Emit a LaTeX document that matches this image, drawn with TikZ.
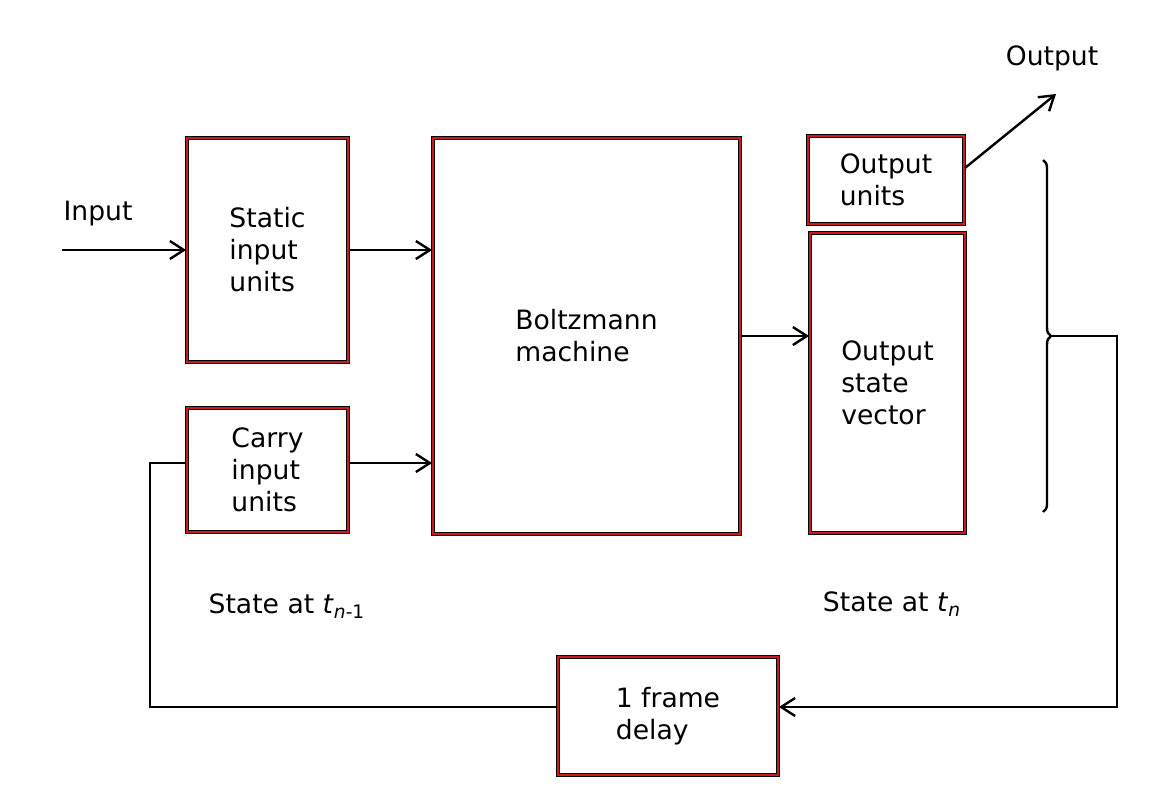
\documentclass[tikz,border=0pt]{standalone}
\usepackage{fontspec}
\setmainfont{DejaVu Sans}
\usepackage{tikz}
\usetikzlibrary{arrows.meta}
\usetikzlibrary{decorations.pathreplacing}
\definecolor{boxred}{RGB}{205,25,30}
\tikzstyle{unit} = [rectangle, draw=boxred, line width=0.9pt,
    preaction={draw=black, line width=2.4pt}, align=left, inner sep=0pt,
    font=\fontsize{13.3}{16}\selectfont]
\tikzstyle{note} = [font=\fontsize{13.3}{16}\selectfont]
\tikzstyle{wire} = [draw, line width=1.2pt]
\tikzstyle{line} = [draw, line width=1.2pt, -{Straight Barb[length=7pt,width=9pt]}]

\begin{document}
\begin{tikzpicture}[x=0.5pt, y=-0.5pt]
  \useasboundingbox (0,0) rectangle (1171,811);

  \node [unit, minimum width=80.5pt, minimum height=112pt] (static) at (267.5,250) {Static\\input\\units};
  \node [unit, minimum width=80.5pt, minimum height=62pt] (carry) at (267.5,470) {Carry\\input\\units};
  \node [unit, minimum width=153.5pt, minimum height=198pt] (boltz) at (586.5,336) {Boltzmann\\machine};
  \node [unit, minimum width=78pt, minimum height=44pt] (outunits) at (886,180) {Output\\units};
  \node [unit, minimum width=77.5pt, minimum height=150pt] (osv) at (887.5,383) {Output\\state\\vector};
  \node [unit, minimum width=110pt, minimum height=59pt] (delay) at (668,716) {1 frame\\delay};

  \node [note] (inlabel) at (98,214) {Input};
  \node [note] (outlabel) at (1052,58) {Output};
  \node [note] (statebefore) at (287,606) {State at \textit{t}\textsubscript{\textit{n}-1}};
  \node [note] (statenow) at (892,604) {State at \textit{t}\textsubscript{\textit{n}}};

  \coordinate (in) at (62,250);
  \coordinate (out) at (1056,94);
  \coordinate (bracetip) at (1051,336);
  \coordinate (turn) at (1117,336);
  \coordinate (loop) at (150,600);

  \path [line] (in) -- (static.west);
  \path [line] (static.east) -- (static.east -| boltz.west);
  \path [line] ([yshift=3.5pt]carry.east) -- ([yshift=3.5pt]carry.east -| boltz.west);
  \path [line] (boltz.east) -- (boltz.east -| osv.west);
  \path [line] ([yshift=6pt]outunits.east) -- (out);

  % state vector fed back through the delay
  \draw [line width=1.2pt, decorate, decoration={brace, amplitude=4pt}] (1043,160) -- (1043,512);
  \path [line] (bracetip) -- (turn) |- ([yshift=4.5pt]delay.east);
  \path [wire] ([yshift=4.5pt]delay.west) -| (loop) |- ([yshift=3.5pt]carry.west);

\end{tikzpicture}
\end{document}
